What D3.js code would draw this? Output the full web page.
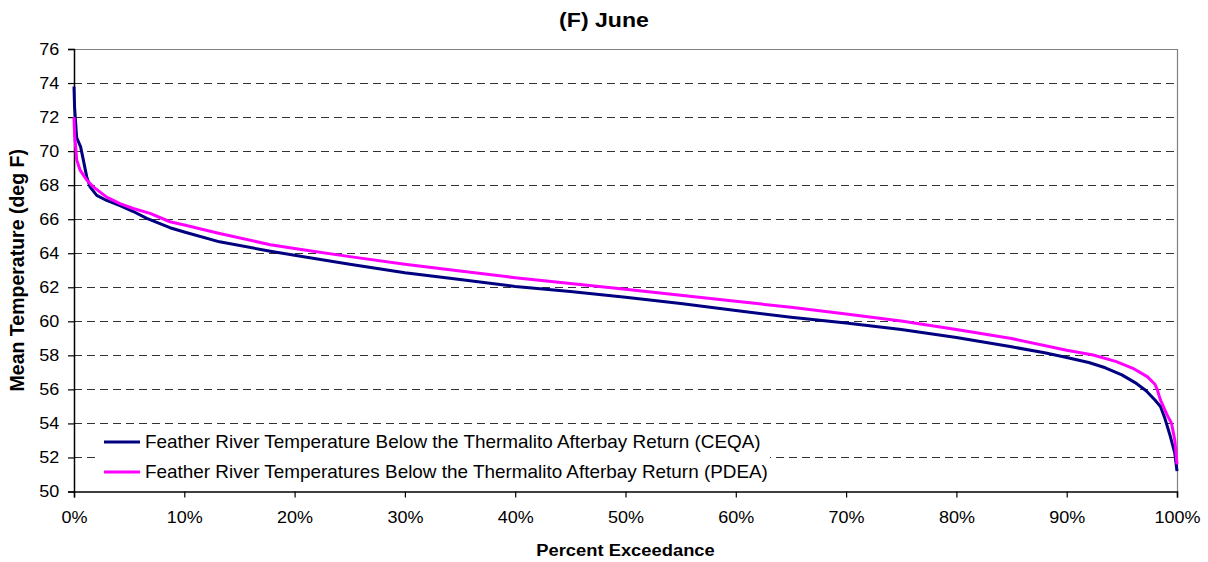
<!DOCTYPE html>
<html>
<head>
<meta charset="utf-8">
<script src="https://cdn.jsdelivr.net/npm/d3@7/dist/d3.min.js"></script>
<style>
  body { margin: 0; background: #fff; }
  svg { display: block; }
  text { font-family: Arial, "Liberation Sans", sans-serif; fill: #000; }
</style>
</head>
<body>
<svg id="chart" width="1208" height="562"></svg>
<script>
// ---- data -------------------------------------------------------------
const chartTitle = "(F) June";
const xAxisTitle = "Percent Exceedance";
const yAxisTitle = "Mean Temperature (deg F)";

const seriesNames = [
  "Feather River Temperature Below the Thermalito Afterbay Return (CEQA)",
  "Feather River Temperatures Below the Thermalito Afterbay Return (PDEA)"
];
const seriesColors = ["#000080", "#FF00FF"];

// CEQA: percent exceedance (%) and mean temperature (deg F)
const ceqaExceedance = [0, 0.05, 0.24, 0.6, 0.84, 1.15, 1.45, 2.06, 2.96, 4.17, 5.38, 6.6, 8.7, 10,
  13.2, 17.8, 20, 25, 30, 35, 40, 45, 50, 55, 60, 65, 70, 75, 80, 85, 88, 90, 92, 93.5, 95, 96.2,
  97.2, 98.0, 98.5, 98.9, 99.4, 99.8, 100];
const ceqaTemp = [73.8, 72.6, 70.8, 70.25, 69.5, 68.5, 67.9, 67.4, 67.1, 66.8, 66.45, 66.05, 65.5, 65.25,
  64.67, 64.12, 63.88, 63.35, 62.85, 62.45, 62.05, 61.75, 61.42, 61.04, 60.63, 60.24, 59.9, 59.52,
  59.05, 58.5, 58.15, 57.87, 57.58, 57.27, 56.85, 56.4, 55.92, 55.38, 54.99, 54.3, 53.23, 52.25, 51.2];

// PDEA: percent exceedance (%) and mean temperature (deg F)
const pdeaExceedance = [0, 0.05, 0.15, 0.24, 0.54, 1.15, 1.75, 2.96, 4.17, 5.38, 6.9, 8.7, 10, 13.2,
  17.8, 20, 25, 30, 35, 40, 45, 50, 55, 60, 65, 70, 75, 80, 85, 90, 92.4, 94.5, 96.0, 97.3, 98.0,
  98.2, 98.5, 98.9, 99.1, 99.5, 99.8, 100];
const pdeaTemp = [72.0, 71.0, 70.25, 69.5, 68.9, 68.3, 67.9, 67.3, 66.92, 66.63, 66.34, 65.85, 65.66,
  65.16, 64.5, 64.28, 63.8, 63.35, 62.95, 62.56, 62.22, 61.88, 61.53, 61.18, 60.82, 60.43, 60.02,
  59.52, 58.99, 58.3, 58.02, 57.63, 57.24, 56.75, 56.3, 56.0, 55.38, 54.8, 54.5, 54.01, 53.03, 51.6];

const yTicks = [50, 52, 54, 56, 58, 60, 62, 64, 66, 68, 70, 72, 74, 76];
const xTicks = [0, 10, 20, 30, 40, 50, 60, 70, 80, 90, 100];

// ---- layout -----------------------------------------------------------
const plot = { left: 74, right: 1177, top: 49, bottom: 491.5 };
const svg = d3.select("#chart");

const x = d3.scaleLinear().domain([0, 100]).range([plot.left, plot.right]);
const y = d3.scaleLinear().domain([50, 76]).range([plot.bottom, plot.top]);

// horizontal gridlines (dashed), top and right borders solid grey
const grid = svg.append("g");
grid.selectAll("line.grid")
  .data(yTicks.filter(v => v > 50 && v < 76))
  .join("line")
  .attr("x1", plot.left).attr("x2", plot.right)
  .attr("y1", d => Math.round(y(d)) + 0.5).attr("y2", d => Math.round(y(d)) + 0.5)
  .attr("stroke", "#333").attr("stroke-width", 1.1)
  .attr("stroke-dasharray", "8,5");
grid.append("line")
  .attr("x1", plot.left).attr("x2", plot.right)
  .attr("y1", Math.round(y(76)) + 0.5).attr("y2", Math.round(y(76)) + 0.5)
  .attr("stroke", "#808080").attr("stroke-width", 1.2);
grid.append("line")
  .attr("x1", Math.round(x(100)) + 0.5).attr("x2", Math.round(x(100)) + 0.5)
  .attr("y1", plot.top).attr("y2", plot.bottom)
  .attr("stroke", "#808080").attr("stroke-width", 1.2);

// axes
const yAxis = d3.axisLeft(y).tickValues(yTicks).tickSize(6).tickPadding(8).tickFormat(d3.format("d"));
const xAxis = d3.axisBottom(x).tickValues(xTicks).tickSize(6).tickPadding(13).tickFormat(d => d + "%");

const gy = svg.append("g").attr("transform", `translate(${plot.left},0)`).call(yAxis);
const gx = svg.append("g").attr("transform", `translate(0,${plot.bottom})`).call(xAxis);
[gx, gy].forEach(g => {
  g.select(".domain").attr("stroke", "#000").attr("stroke-width", 1.5);
  g.selectAll(".tick line").attr("stroke", "#000").attr("stroke-width", 1.2);
  g.selectAll(".tick text").attr("font-size", 17).attr("fill", "#000")
    .attr("font-family", "Arial, 'Liberation Sans', sans-serif")
    .attr("transform", "scale(1.06,1)");
});

// series lines
const line = d3.line().x(d => x(d[0])).y(d => y(d[1]));
const ceqa = ceqaExceedance.map((p, i) => [p, ceqaTemp[i]]);
const pdea = pdeaExceedance.map((p, i) => [p, pdeaTemp[i]]);

[ceqa, pdea].forEach((data, i) => {
  svg.append("path")
    .datum(data)
    .attr("d", line)
    .attr("fill", "none")
    .attr("stroke", seriesColors[i])
    .attr("stroke-width", 3)
    .attr("stroke-linejoin", "round");
});

// legend
const legend = svg.append("g");
legend.append("rect")
  .attr("x", 96).attr("y", 428).attr("width", 674).attr("height", 59)
  .attr("fill", "#fff");
seriesNames.forEach((name, i) => {
  const ly = 442 + i * 30;
  legend.append("line")
    .attr("x1", 104).attr("x2", 140).attr("y1", ly).attr("y2", ly)
    .attr("stroke", seriesColors[i]).attr("stroke-width", 3);
  legend.append("text")
    .attr("transform", `translate(145,${ly + 6}) scale(1.08,1)`)
    .attr("font-size", 17.5)
    .text(name);
});

// titles
svg.append("text")
  .attr("transform", "translate(604,27) scale(1.1,1)")
  .attr("text-anchor", "middle")
  .attr("font-size", 21).attr("font-weight", "bold")
  .text(chartTitle);
svg.append("text")
  .attr("transform", `translate(${(plot.left + plot.right) / 2},556) scale(1.08,1)`)
  .attr("text-anchor", "middle")
  .attr("font-size", 17).attr("font-weight", "bold")
  .text(xAxisTitle);
svg.append("text")
  .attr("transform", `translate(24,${(plot.top + plot.bottom) / 2}) rotate(-90)`)
  .attr("text-anchor", "middle")
  .attr("font-size", 19.5).attr("font-weight", "bold")
  .text(yAxisTitle);
</script>
</body>
</html>
